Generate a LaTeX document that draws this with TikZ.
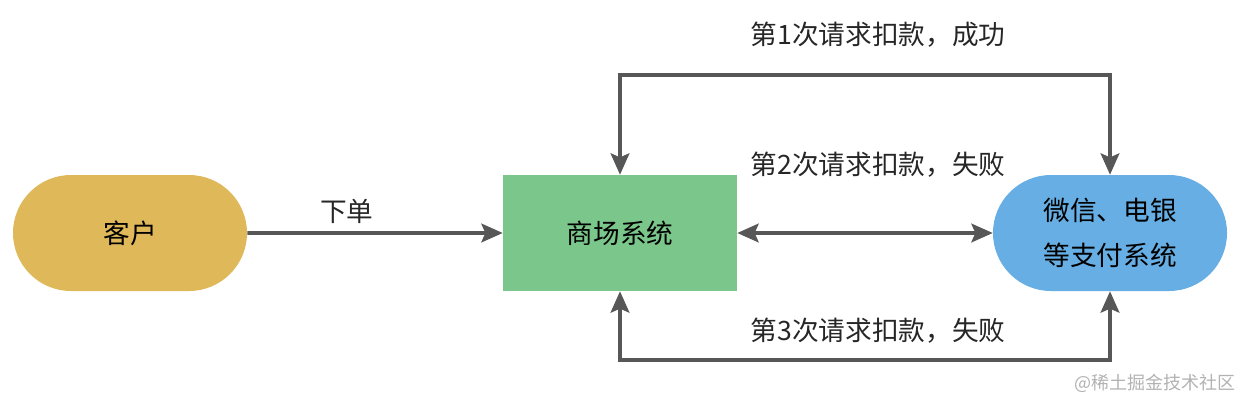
\documentclass[tikz,border=0pt]{standalone}
\usepackage{fontspec}
\setmainfont{Noto Sans CJK SC}
\usetikzlibrary{arrows.meta,shapes.misc}
\definecolor{custgold}{HTML}{DFB85A}
\definecolor{mallgreen}{HTML}{7BC68A}
\definecolor{paybblue}{HTML}{66AEE3}
\definecolor{arrgray}{HTML}{575757}
\begin{document}
\begin{tikzpicture}[
  x=0.75pt,y=-0.75pt,
  font=\fontsize{20}{34}\selectfont,
  >={Stealth[length=16pt,width=14pt,inset=3pt]},
  pill/.style={rounded rectangle,minimum width=175.5pt,minimum height=87pt,align=center,inner sep=0pt},
  box/.style={rectangle,minimum width=175.5pt,minimum height=87pt,align=center,inner sep=0pt},
  arrow/.style={->,line width=2.8pt,draw=arrgray},
  lbl/.style={text=black!85}
]
  \useasboundingbox (0,0) rectangle (1244,401);

  \node[pill,fill=custgold] (cust) at (130,233) {客户};
  \node[box,fill=mallgreen] (mall) at (620,233) {商场系统};
  \node[pill,fill=paybblue] (pay) at (1110,233) {微信、电银\\等支付系统};

  \draw[arrow] (cust) -- (mall) node[lbl,pos=0.39,above=2pt] {下单};
  \draw[arrow,<->] (mall) -- (pay);
  \draw[arrow,<->] (mall.north) -- ++(0,-100) -| (pay.north);
  \draw[arrow,<->] (mall.south) -- ++(0,69) -| (pay.south);

  \node[lbl] (try1) at (878,35) {第1次请求扣款，成功};
  \node[lbl] (try2) at (878,165) {第2次请求扣款，失败};
  \node[lbl] (try3) at (878,331) {第3次请求扣款，失败};

  \node[text=black!30,font=\fontsize{13.5}{16}\selectfont] (mark) at (1155,383) {@稀土掘金技术社区};
\end{tikzpicture}
\end{document}
